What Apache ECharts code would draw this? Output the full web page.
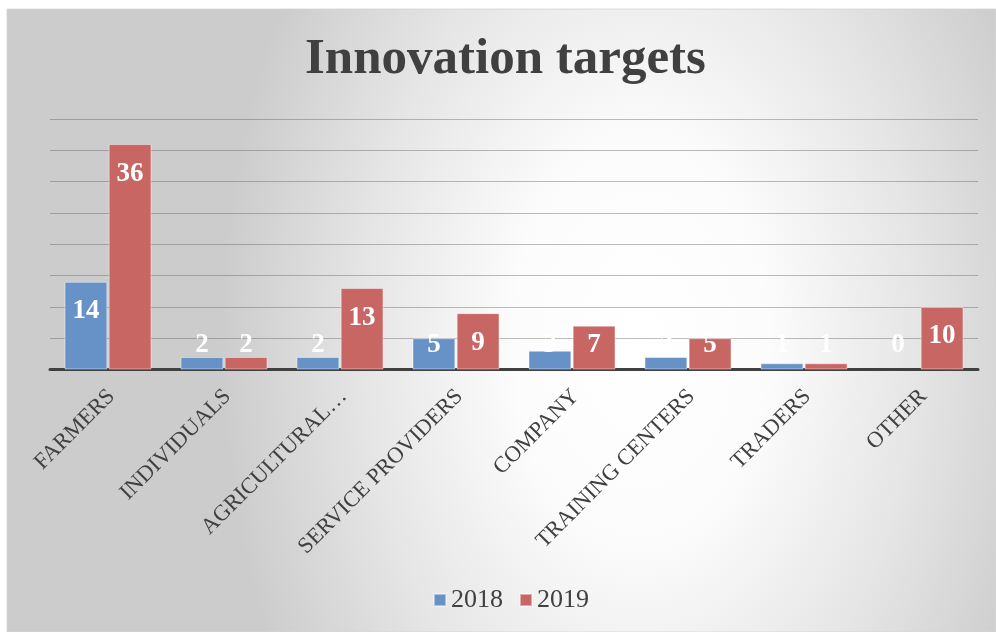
<!DOCTYPE html>
<html>
<head>
<meta charset="utf-8">
<script src="https://cdn.jsdelivr.net/npm/echarts@6/dist/echarts.min.js"></script>
<style>
  html, body { margin: 0; padding: 0; background: #fff; }
  #chart { width: 996px; height: 632px; }
</style>
</head>
<body>
<div id="chart"></div>
<script>
// data
const categories = ['FARMERS', 'INDIVIDUALS', 'AGRICULTURAL…', 'SERVICE PROVIDERS', 'COMPANY', 'TRAINING CENTERS', 'TRADERS', 'OTHER'];
const seriesNames = ['2018', '2019'];
const values2018 = [14, 2, 2, 5, 3, 2, 1, 0];
const values2019 = [36, 2, 13, 9, 7, 5, 1, 10];
const yMin = 0, yMax = 40, yStep = 5;

const SERIF = '"Liberation Serif", "DejaVu Serif", serif';
const TEXT = '#404040';
const BLUE = '#6692c8';
const RED = '#c86664';

// short bars get their label pushed up off the baseline
function barData(values) {
  return values.map(v => {
    if (v < 8) {
      return {
        value: v,
        label: { position: 'insideBottom', distance: 11 },
        itemStyle: v === 0 ? { borderWidth: 0 } : undefined,
      };
    }
    return v;
  });
}

function barSeries(name, values, color) {
  return {
    name: name,
    type: 'bar',
    data: barData(values),
    barCategoryGap: '25%',
    barGap: '3%',
    itemStyle: { color: color, borderColor: 'rgba(255,255,255,0.45)', borderWidth: 1 },
    label: {
      show: true,
      position: 'insideTop',
      distance: 16,
      color: '#fff',
      fontFamily: SERIF,
      fontWeight: 'bold',
      fontSize: 27,
    },
  };
}

const chart = echarts.init(document.getElementById('chart'));

// elliptical "from centre" fill like the office chart area
const sx = 0.646;
chart.setOption({
  animation: false,
  graphic: [{
    type: 'rect',
    x: 7,
    y: 9,
    scaleX: sx,
    z: -10,
    silent: true,
    shape: { x: 0, y: 0, width: 989 / sx, height: 623 },
    style: {
      fill: {
        type: 'radial', global: true,
        x: (640 - 7) / sx, y: 331, r: 650,
        colorStops: [
          { offset: 0, color: '#ffffff' },
          { offset: 0.3, color: '#fcfcfc' },
          { offset: 0.65, color: '#e6e6e6' },
          { offset: 1, color: '#cccccc' },
        ],
      },
      stroke: '#d4d4d4',
      lineWidth: 1,
    },
  }],
  title: {
    text: 'Innovation targets',
    left: 300,
    top: 29,
    textStyle: { fontFamily: SERIF, fontWeight: 'bold', fontSize: 51, color: TEXT },
  },
  legend: {
    data: seriesNames,
    left: 428,
    top: 582,
    itemWidth: 12,
    itemHeight: 12,
    itemGap: 16,
    icon: 'rect',
    textStyle: { fontFamily: SERIF, fontSize: 26, color: TEXT },
  },
  grid: { left: 50, right: 18, top: 119, bottom: 262.5, containLabel: false },
  xAxis: {
    type: 'category',
    data: categories,
    axisLine: { lineStyle: { color: '#404040', width: 3 } },
    axisTick: { show: false },
    axisLabel: {
      rotate: 45,
      interval: 0,
      margin: 27,
      padding: [0, -5, 0, 0],
      fontFamily: SERIF,
      fontSize: 22.5,
      color: TEXT,
    },
  },
  yAxis: {
    type: 'value',
    min: yMin,
    max: yMax,
    interval: yStep,
    axisLabel: { show: false },
    axisLine: { show: false },
    axisTick: { show: false },
    splitLine: { lineStyle: { color: 'rgba(90,90,90,0.4)', width: 1.2 } },
  },
  series: [
    barSeries(seriesNames[0], values2018, BLUE),
    barSeries(seriesNames[1], values2019, RED),
  ],
});
</script>
</body>
</html>
